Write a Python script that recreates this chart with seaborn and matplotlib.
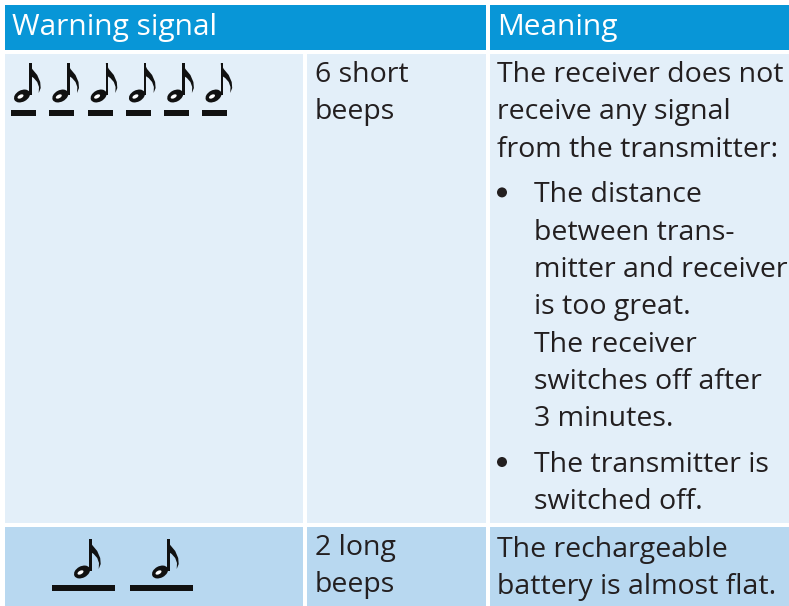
import matplotlib.pyplot as plt
import matplotlib.patches as mpatches
import seaborn as sns

sns.set_theme(style="white")
plt.rcParams['font.family'] = ['Open Sans', 'DejaVu Sans']

# table content
headers = ["Warning signal", "Meaning"]
signals = [["6 short", "beeps"], ["2 long", "beeps"]]
note_counts = [6, 2]
meaning_1_intro = ["The receiver does not", "receive any signal", "from the transmitter:"]
meaning_1_bullets = [
    ["The distance", "between trans-", "mitter and receiver", "is too great.",
     "The receiver", "switches off after", "3 minutes."],
    ["The transmitter is", "switched off."],
]
meaning_2 = ["The rechargeable", "battery is almost flat."]

header_color = "#0896d7"
row_colors = ["#e3eff9", "#b8d8f0"]
text_color = "#231f20"
ink = "#111111"
fs = 20.5
lh = 37.3

fig = plt.figure(figsize=(7.89, 6.06), dpi=100)
ax = fig.add_axes([0, 0, 1, 1])
ax.set_xlim(0, 789)
ax.set_ylim(606, 0)
ax.axis("off")


def cell(x0, x1, y0, y1, color):
    ax.add_patch(mpatches.Rectangle((x0, y0), x1 - x0, y1 - y0, color=color, lw=0))


def lines(x, y, items):
    for line in items:
        ax.text(x, y, line, color=text_color, fontsize=fs, va="baseline")
        y += lh
    return y


# header
cell(5, 486, 5, 50, header_color)
cell(490, 789, 5, 50, header_color)
ax.text(12, 35, headers[0], color="white", fontsize=21.5, va="baseline")
ax.text(497, 35, headers[1], color="white", fontsize=21.5, va="baseline")

# rows
rows_y = [(54, 523), (527, 606)]
for (y0, y1), c in zip(rows_y, row_colors):
    cell(5, 303, y0, y1, c)
    cell(307, 486, y0, y1, c)
    cell(490, 789, y0, y1, c)

# signal column text
for (y0, y1), s in zip(rows_y, signals):
    lines(315, y0 + 28, s)


def note(hx, hy, bar_x, bar_w, bar_y):
    # bar under the note
    ax.add_patch(mpatches.Rectangle((bar_x, bar_y), bar_w, 6, color=ink, lw=0))
    # head
    ax.add_patch(mpatches.Ellipse((hx, hy), 17, 11.5, angle=-28, color=ink, lw=0))
    ax.add_patch(mpatches.Ellipse((hx - 1.5, hy + 0.5), 6.5, 3.5, angle=-28, color="white", lw=0))
    # stem
    sx = hx + 7.2
    top = hy - 33
    ax.add_patch(mpatches.Rectangle((sx, top), 2.4, 32, color=ink, lw=0))
    # flag
    flag = [(sx, top), (sx + 3, top + 6), (sx + 8, top + 12), (sx + 11, top + 19),
            (sx + 11.5, top + 25), (sx + 9.5, top + 30), (sx + 9.8, top + 24),
            (sx + 8, top + 19), (sx + 4.5, top + 15), (sx + 1.5, top + 13)]
    ax.add_patch(mpatches.Polygon(flag, closed=True, color=ink, lw=0))


# row 1 notes
for i in range(note_counts[0]):
    x0 = 11 + 38.3 * i
    note(x0 + 11, 96, x0, 25, 110)
# row 2 notes
for i in range(note_counts[1]):
    x0 = 52 + 78 * i
    note(x0 + 30, 572, x0, 63, 585)

# meaning column
y = lines(497, 82, meaning_1_intro)
y += 8.5
for bullet in meaning_1_bullets:
    ax.add_patch(mpatches.Circle((502, y - 10), 5, color=text_color, lw=0))
    y = lines(534, y, bullet)
    y += 8.5

lines(497, 557, meaning_2)

fig.savefig("out.png", dpi=100)
